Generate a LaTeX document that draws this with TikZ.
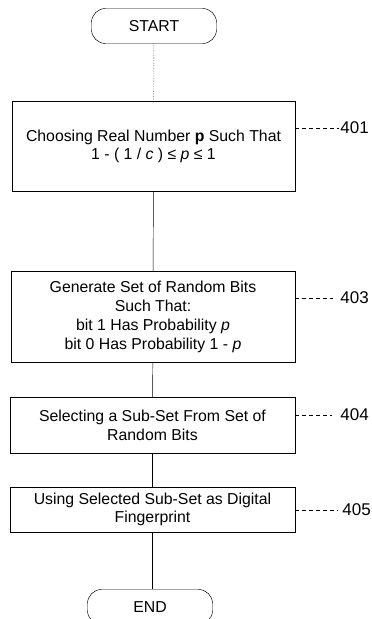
\documentclass[tikz,border=0pt]{standalone}
\usepackage{fontspec}
\setmainfont{Liberation Sans}
\usetikzlibrary{calc}
\usetikzlibrary{positioning}

\begin{document}
\begin{tikzpicture}[x=0.03cm,y=-0.03cm,
	flowbox/.style={draw,thin,align=center,inner sep=2pt,font=\fontsize{13.5}{16}\selectfont},
	termbox/.style={draw,thin,rounded corners=0.42cm,minimum width=3.75cm,minimum height=1.05cm,font=\fontsize{13.5}{16}\selectfont},
	leader/.style={thin,dashed},
	reflabel/.style={anchor=west,inner sep=1pt,font=\fontsize{14.5}{16}\selectfont}]
	\useasboundingbox (0,0) rectangle (372,619);
	%start and end
	\node[termbox] (start) at (154,26) {START};
	\node[termbox] (end) at (150,607) {END};
	%steps
	\node[flowbox,minimum width=8.49cm,minimum height=2.7cm] (b401) at (153.5,146.5)
		{Choosing Real Number \textbf{p} Such That\\1 - ( 1 / \textit{c} ) ≤ \textit{p} ≤ 1};
	\node[flowbox,minimum width=8.52cm,minimum height=2.73cm] (b403) at (153,317)
		{Generate Set of Random Bits\\Such That:\\bit 1 Has Probability \textit{p}\\bit 0 Has Probability 1 - \textit{p}};
	\node[flowbox,minimum width=8.55cm,minimum height=1.68cm] (b404) at (152.5,425)
		{Selecting a Sub-Set From Set of\\Random Bits};
	\node[flowbox,minimum width=8.55cm,minimum height=1.35cm] (b405) at (152.5,509.5)
		{Using Selected Sub-Set as Digital\\Fingerprint};
	%flow lines
	\draw[thin,densely dotted] (start) -- (b401);
	\draw[thin] (b401) -- (b403);
	\draw[thin] (b403) -- (b404);
	\draw[thin] (b404) -- (b405);
	\draw[thin] (b405.south) -- (b405.south |- end.north);
	%reference numbers
	\node[reflabel] (n401) at (339,128) {401};
	\node[reflabel] (n403) at (339,298) {403};
	\node[reflabel] (n404) at (339,415) {404};
	\node[reflabel] (n405) at (341,510) {405};
	\coordinate (l401) at (b401.east |- n401);
	\coordinate (l403) at (b403.east |- n403);
	\coordinate (l404) at (b404.east |- n404);
	\coordinate (l405) at (b405.east |- n405);
	\draw[leader] (l401) -- (n401.west);
	\draw[leader] (l403) -- ($(n403.west)+(-6,0)$);
	\draw[leader] (l404) -- ($(n404.west)+(-7,0)$);
	\draw[leader] (l405) -- ($(n405.west)+(-3,0)$);
\end{tikzpicture}
\end{document}
